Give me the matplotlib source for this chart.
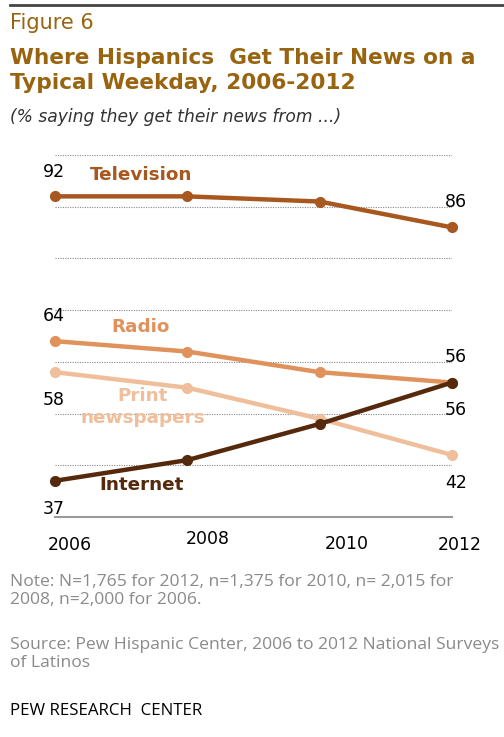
import matplotlib.pyplot as plt
import matplotlib.transforms as mtrans
from matplotlib.lines import Line2D

years = [2006, 2008, 2010, 2012]
television = [92, 92, 91, 86]
radio = [64, 62, 58, 56]
print_news = [58, 55, 49, 42]
internet = [37, 41, 48, 56]

tv_color = '#A8571F'
radio_color = '#E0925C'
print_color = '#EFBF9C'
net_color = '#55290B'
title_color = '#98640F'

fig = plt.figure(figsize=(5.04, 7.37), dpi=100)
fig.patch.set_facecolor('white')

# top rule
fig.add_artist(Line2D([10 / 504, 1], [1 - 5 / 737] * 2, color='#444444', lw=2))

fig.text(10 / 504, 1 - 23 / 737, 'Figure 6', fontsize=15, color=title_color, va='center')
fig.text(10 / 504, 1 - 58 / 737, 'Where Hispanics  Get Their News on a', fontsize=15.6,
         fontweight='bold', color=title_color, va='center')
fig.text(10 / 504, 1 - 83 / 737, 'Typical Weekday, 2006-2012', fontsize=15.6,
         fontweight='bold', color=title_color, va='center')
fig.text(10 / 504, 1 - 117 / 737, '(% saying they get their news from ...)', fontsize=12.3,
         style='italic', color='#333333', va='center')

ax = fig.add_axes([55 / 504, 1 - 517 / 737, 397 / 504, 362 / 737])
ax.set_xlim(2006, 2012)
ax.set_ylim(30, 100)
ax.axis('off')

for g in range(40, 101, 10):
    ax.plot([2006, 2012], [g, g], color='#888888', lw=0.8, ls=(0, (1, 1.2)), zorder=1)
ax.plot([2006, 2012], [30, 30], color='#999999', lw=1.5, zorder=1, clip_on=False)

for vals, col in [(print_news, print_color), (radio, radio_color),
                  (internet, net_color), (television, tv_color)]:
    ax.plot(years, vals, color=col, lw=3.2, marker='o', ms=7, clip_on=False, zorder=3)


def off(dx, dy):
    return ax.transData + mtrans.ScaledTranslation(dx / 100, -dy / 100, fig.dpi_scale_trans)


# value labels
lab = dict(fontsize=12.5, color='black', ha='center', va='center')
ax.text(2006, 92, '92', transform=off(-1, -24), **lab)
ax.text(2012, 86, '86', transform=off(4, -25), **lab)
ax.text(2006, 64, '64', transform=off(-1, -25), **lab)
ax.text(2012, 56, '56', transform=off(4, -26), **lab)
ax.text(2006, 58, '58', transform=off(-1, 28), **lab)
ax.text(2012, 56, '56', transform=off(4, 27), **lab)
ax.text(2012, 42, '42', transform=off(4, 28), **lab)
ax.text(2006, 37, '37', transform=off(-1, 28), **lab)

# series labels
ser = dict(fontsize=13.2, fontweight='bold', ha='center', va='center')
ax.text(2006, 92, 'Television', transform=off(86, -21), color=tv_color, **ser)
ax.text(2006, 64, 'Radio', transform=off(86, -14), color=radio_color, **ser)
ax.text(2006, 58, 'Print', transform=off(88, 24), color=print_color, **ser)
ax.text(2006, 58, 'newspapers', transform=off(88, 46), color=print_color, **ser)
ax.text(2006, 37, 'Internet', transform=off(87, 4), color=net_color, **ser)

# year labels
year_offsets = [(15, 28), (20, 22), (27, 27), (8, 28)]
for yr, (dx, dy) in zip(years, year_offsets):
    ax.text(yr, 30, str(yr), transform=off(dx, dy), fontsize=12.5, color='black',
            ha='center', va='center')

note = dict(fontsize=12.6, color='#8a8a8a', va='center', family='Open Sans')
fig.text(10 / 504, 1 - 582 / 737, 'Note: N=1,765 for 2012, n=1,375 for 2010, n= 2,015 for', **note)
fig.text(10 / 504, 1 - 600 / 737, '2008, n=2,000 for 2006.', **note)
fig.text(10 / 504, 1 - 645 / 737, 'Source: Pew Hispanic Center, 2006 to 2012 National Surveys', **note)
fig.text(10 / 504, 1 - 663 / 737, 'of Latinos', **note)
fig.text(10 / 504, 1 - 711 / 737, 'PEW RESEARCH  CENTER', fontsize=12.2, color='black',
         va='center', family='Open Sans')

fig.savefig('out.png', dpi=100)
